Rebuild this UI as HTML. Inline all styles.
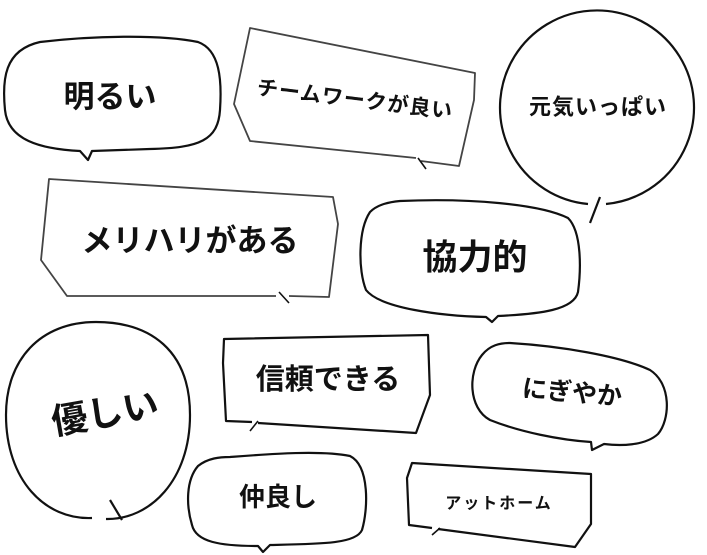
<!DOCTYPE html>
<html><head><meta charset="utf-8"><style>
html,body{margin:0;padding:0;background:#fff;width:707px;height:555px;overflow:hidden}
svg{display:block}
text{font-family:"Liberation Sans","Noto Sans CJK JP",sans-serif;font-weight:bold;fill:#111;text-anchor:middle;dominant-baseline:central}
</style></head><body>
<svg width="707" height="555" viewBox="0 0 707 555" xmlns="http://www.w3.org/2000/svg">
<g fill="none" stroke="#111" stroke-width="2.2" stroke-linejoin="round">
<path d="M40,42 C90,36 160,34 198,42 C220,50 222,80 220,110 C218,140 200,148 150,149 L92,151 L88,160 L80,151 C40,149 8,140 5,110 C2,80 4,50 40,42 Z"/>
<path d="M416,158 L250,141 L234,104 L250,28 L475,73 L474,100 L459,166 L421,161" stroke="#444" stroke-width="1.8"/>
<line x1="418" y1="158" x2="426" y2="169" stroke-width="1.6"/>
<path d="M588,204 A97,97 0 1 1 606,204"/>
<line x1="600" y1="197" x2="590" y2="223"/>
<path d="M276,296 L67,296 L41,260 L49,179 L333,197 L338,224 L329,297 L289,296" stroke="#444" stroke-width="1.8"/>
<line x1="279" y1="292" x2="289" y2="303" stroke-width="1.6"/>
<path d="M400,201 C470,198 540,204 568,218 C582,232 581,270 578,292 C574,310 540,314 498,316 L492,322 L486,317 C440,316 380,308 366,290 C358,270 358,230 370,212 C378,204 390,202 400,201 Z"/>
<path d="M106,519 C150,520 190,480 190,415 C190,350 150,322 96,322 C40,322 6,360 6,415 C6,480 45,520 92,518"/>
<line x1="110" y1="500" x2="122" y2="520"/>
<path d="M252,422 L226,421 L223,363 L224,339 L428,335 L430,395 L416,433 L258,423"/>
<line x1="250" y1="431" x2="258" y2="421" stroke-width="1.6"/>
<path d="M510,343 C560,346 620,356 650,370 C672,384 670,420 658,434 C645,446 620,446 604,444 L592,450 L591,442 C560,440 520,432 490,420 C468,408 468,372 482,355 C490,345 500,343 510,343 Z"/>
<path d="M230,457 C270,454 320,450 350,456 C370,466 368,510 362,530 C356,544 320,544 270,545 L263,552 L258,546 C220,546 196,542 192,525 C186,505 186,480 198,466 C208,458 220,457 230,457 Z"/>
<path d="M432,528 L409,525 L407,478 L412,463 L591,474 L591,524 L575,547 L438,529"/>
<line x1="432" y1="535" x2="440" y2="528" stroke-width="1.6"/>
</g>
<text x="110" y="97" font-size="31">明るい</text>
<text x="355" y="100" font-size="21" letter-spacing="1" transform="rotate(7 355 100)">チームワークが良い</text>
<text x="598" y="107" font-size="22" letter-spacing="1">元気いっぱい</text>
<text x="190" y="241" font-size="31">メリハリがある</text>
<text x="475" y="258" font-size="35">協力的</text>
<text x="105" y="413" font-size="36" transform="rotate(-10 105 413)">優しい</text>
<text x="328" y="380" font-size="29">信頼できる</text>
<text x="572" y="393" font-size="25" transform="rotate(5 572 393)">にぎやか</text>
<text x="278" y="497" font-size="26">仲良し</text>
<text x="499" y="504" font-size="16" letter-spacing="2">アットホーム</text>
</svg>
</body></html>
